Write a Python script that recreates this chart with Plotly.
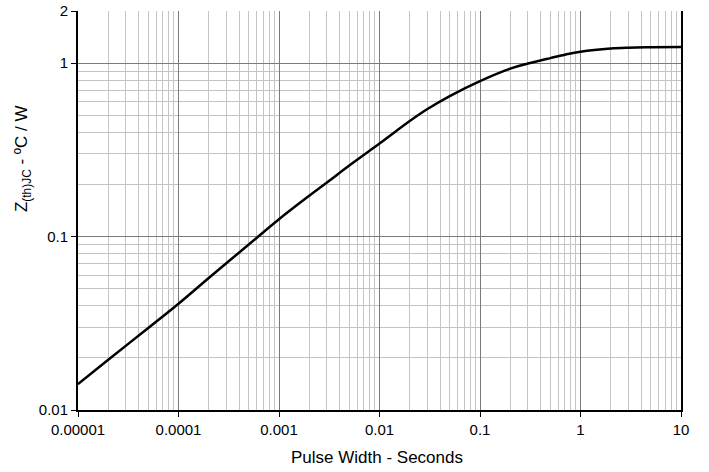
import plotly.graph_objects as go

# Data (pulse width in s, Zth(JC) in °C/W)
pulse_width = [1e-5, 2e-5, 5e-5, 1e-4, 2e-4, 5e-4, 1e-3, 2e-3, 3e-3, 5e-3, 1e-2,
               2e-2, 3e-2, 5e-2, 0.1, 0.2, 0.3, 0.5, 0.7, 1, 2, 3, 5, 10]
zth = [0.0141, 0.0195, 0.0297, 0.0410, 0.0577, 0.0900, 0.126, 0.172, 0.205, 0.257, 0.344,
       0.464, 0.544, 0.646, 0.788, 0.93, 0.995, 1.07, 1.12, 1.165, 1.215, 1.228, 1.235, 1.24]

x_major = [1e-5, 1e-4, 1e-3, 1e-2, 1e-1, 1, 10]
x_major_text = ["0.00001", "0.0001", "0.001", "0.01", "0.1", "1", "10"]
y_major = [0.01, 0.1, 1, 2]
y_major_text = ["0.01", "0.1", "1", "2"]

x_minor = [m * 10.0 ** e for e in range(-5, 1) for m in range(2, 10)]
y_minor = [m * 10.0 ** e for e in range(-2, 0) for m in range(2, 10)]

fig = go.Figure()
fig.add_trace(go.Scatter(x=pulse_width, y=zth, mode="lines",
                         line=dict(color="black", width=2.5, shape="spline", smoothing=1.0),
                         showlegend=False, hoverinfo="skip"))

font = dict(family="Liberation Sans, Arial, sans-serif", size=15, color="black")

fig.update_layout(
    width=709, height=472,
    margin=dict(l=78, r=28, t=11, b=62),
    paper_bgcolor="white", plot_bgcolor="white",
    font=font,
    showlegend=False,
)
fig.update_xaxes(
    type="log", range=[-5, 1], automargin=False,
    tickmode="array", tickvals=x_major, ticktext=x_major_text,
    ticks="outside", ticklen=5, tickcolor="black", tickwidth=1,
    showgrid=True, gridcolor="#7a7a7a", gridwidth=1,
    showline=True, linecolor="black", linewidth=2, mirror=False,
    minor=dict(tickmode="array", tickvals=x_minor, showgrid=True,
               gridcolor="#c4c4c4", gridwidth=1, ticks=""),
    zeroline=False,
)
fig.update_yaxes(
    type="log", range=[-2, 0.30103], automargin=False,
    tickmode="array", tickvals=y_major, ticktext=y_major_text,
    ticks="outside", ticklen=5, tickcolor="black", tickwidth=1,
    showgrid=True, gridcolor="#7a7a7a", gridwidth=1,
    showline=True, linecolor="black", linewidth=2, mirror=True,
    minor=dict(tickmode="array", tickvals=y_minor, showgrid=True,
               gridcolor="#c4c4c4", gridwidth=1, ticks=""),
    zeroline=False,
)
fig.add_annotation(
    text="Pulse Width - Seconds",
    xref="paper", yref="paper", x=0.496, y=-0.120,
    showarrow=False, font=dict(size=17), xanchor="center", yanchor="middle",
)
fig.add_annotation(
    text="Z<sub>(th)JC</sub> - ºC / W", textangle=-90,
    xref="paper", yref="paper", x=-0.0912, y=0.629,
    showarrow=False, font=dict(size=17), xanchor="center", yanchor="middle",
)

fig.write_html("out.html", config={"displayModeBar": False},
               post_script="document.body.style.margin='0';")
